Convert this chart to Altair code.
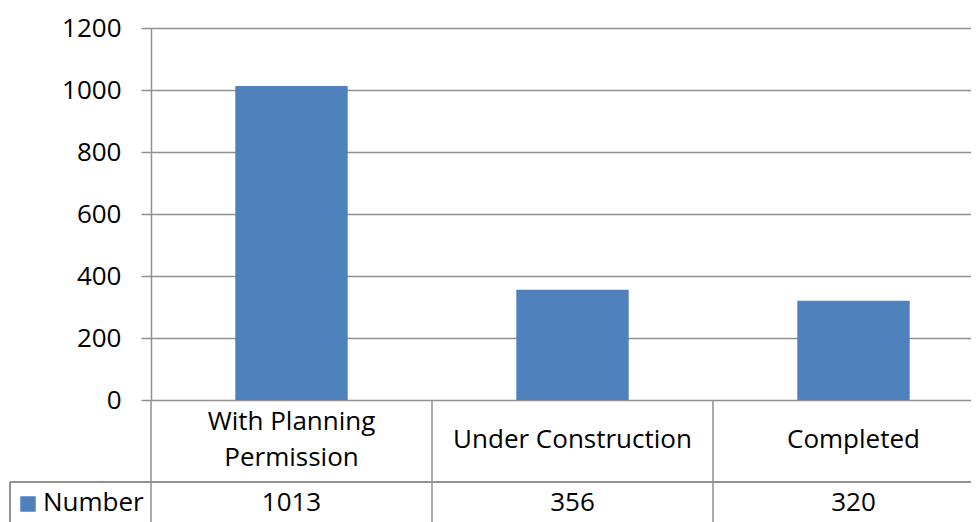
import altair as alt
import pandas as pd

categories = ["With Planning Permission", "Under Construction", "Completed"]
tick_labels = ["With Planning\nPermission", "Under Construction", "Completed"]
values = [1013, 356, 320]
series_name = "Number"
y_ticks = [0, 200, 400, 600, 800, 1000, 1200]

df = pd.DataFrame({"category": categories, "label": tick_labels, "value": values})

BLUE = "#4F81BD"
GRID = "#8f8f8f"
FONT = "Open Sans"
FS = 26
W, H = 820, 372
BAND_RANGE = [0, 843]

base = alt.Chart(df)

bar_x = alt.X("category:N", sort=categories, axis=None,
              scale=alt.Scale(domain=categories, range=BAND_RANGE,
                              paddingInner=0.6, paddingOuter=0.3))


def tab_x(**kw):
    return alt.X("category:N", sort=categories, axis=None,
                 scale=alt.Scale(domain=categories, range=BAND_RANGE,
                                 paddingInner=0, paddingOuter=0), **kw)


bars = base.mark_bar(color=BLUE).encode(
    x=bar_x,
    y=alt.Y("value:Q", title=None,
            scale=alt.Scale(domain=[0, 1200], nice=False),
            axis=alt.Axis(values=y_ticks, format="d", grid=True, gridColor=GRID, gridWidth=1.5,
                          domainColor=GRID, domainWidth=1.5, tickColor=GRID, tickWidth=1.5,
                          tickSize=10, labelPadding=20, labelFont=FONT, labelFontSize=FS,
                          labelColor="black")),
)

vlines = base.mark_rule(color=GRID, strokeWidth=1.5).encode(
    x=tab_x(bandPosition=0),
    y=alt.value(H),
    y2=alt.value(H + 160),
)

text_style = dict(font=FONT, fontSize=FS, color="black", baseline="middle", align="center")

cat_text_single = base.transform_filter(
    "indexof(datum.label, '\\n') < 0"
).mark_text(**text_style).encode(
    x=tab_x(), y=alt.value(412), text="label:N",
)
cat_text_multi = base.transform_filter(
    "indexof(datum.label, '\\n') >= 0"
).mark_text(lineBreak="\n", lineHeight=36, dy=-18, **text_style).encode(
    x=tab_x(), y=alt.value(412), text="label:N",
)

num_text = base.mark_text(**text_style).encode(
    x=tab_x(), y=alt.value(475), text="value:Q",
)

row_line = base.mark_rule(color=GRID, strokeWidth=1.5).encode(
    x=alt.value(-141), x2=alt.value(W), y=alt.value(454)
)
left_border = base.mark_rule(color=GRID, strokeWidth=1.5).encode(
    x=alt.value(-141), y=alt.value(454), y2=alt.value(H + 160)
)

legend_data = alt.Data(values=[{"series": series_name}])
legend_sq = alt.Chart(legend_data).mark_square(color=BLUE, opacity=1, size=240).encode(
    x=alt.value(-123), y=alt.value(476)
)
legend_txt = alt.Chart(legend_data).mark_text(font=FONT, fontSize=FS, color="black",
                                              baseline="middle", align="left").encode(
    x=alt.value(-108), y=alt.value(475), text="series:N"
)

chart = alt.layer(
    bars, vlines, cat_text_single, cat_text_multi, num_text, row_line, left_border,
    legend_sq, legend_txt
).resolve_scale(x="independent").properties(
    width=W, height=H,
    padding={"left": 143, "top": 20, "right": 0, "bottom": 122},
    autosize=alt.AutoSizeParams(type="none"),
).configure_view(strokeWidth=0)

chart.save("out.html", embed_options={"renderer": "svg", "actions": False})
